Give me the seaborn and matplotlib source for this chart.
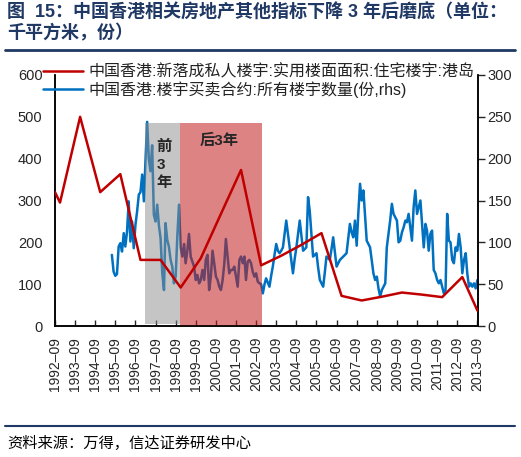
import pandas as pd
import matplotlib
matplotlib.use("Agg")
import matplotlib.pyplot as plt
import matplotlib.dates as mdates
from matplotlib.lines import Line2D
import seaborn as sns

title_text = "图  15：中国香港相关房地产其他指标下降 3 年后磨底（单位：\n千平方米，份）"
source_text = "资料来源：万得，信达证券研发中心"
red_label = "中国香港:新落成私人楼宇:实用楼面面积:住宅楼宇:港岛"
blue_label = "中国香港:楼宇买卖合约:所有楼宇数量(份,rhs)"

# annual series, left axis (千平方米)
red_dates = ["1992-09", "1992-12", "1993-12", "1994-12", "1995-12", "1996-12",
             "1997-12", "1998-12", "1999-12", "2000-12", "2001-12", "2002-12",
             "2003-12", "2004-12", "2005-12", "2006-12", "2007-12", "2008-12",
             "2009-12", "2010-12", "2011-12", "2012-12", "2013-09"]
red_values = [320, 295, 500, 320, 363, 158, 158, 92, 162, 268, 373, 145,
              168, 194, 222, 72, 61, 70, 80, 75, 69, 117, 37]

# monthly series, right axis (份), from 1995-07
blue_start = "1995-07"
blue_values = [
    85, 65, 60, 62, 95, 99, 89, 111, 95, 113, 149, 101, 125, 93, 121, 137,
    157, 160, 181, 149, 196, 244, 200, 185, 216, 133, 125, 145, 120, 105, 63,
    43, 123, 103, 95, 79, 71, 51, 59, 107, 145,
    94, 83, 98, 75, 90, 110, 83, 77, 71, 55, 61, 51, 55, 67, 55, 79, 85, 43,
    59, 90, 75, 59, 55, 47, 43, 55, 75, 104, 83, 63, 67, 67, 71, 59, 47, 79,
    83, 75, 83, 55, 77, 79, 75, 65, 59, 63, 53, 51,
    50, 39, 50, 57, 52, 47, 60, 71, 85, 98,
    90, 87, 90, 94, 110, 126, 110, 94, 78, 63,
    80, 94, 110, 126, 108, 90, 92, 94, 154, 138,
    110, 83, 85, 87, 70, 55, 51, 47, 65, 83,
    81, 79, 92, 106, 88, 71, 75, 79, 81, 83,
    85, 87, 105, 122, 112, 106, 126, 96, 135, 170,
    150, 162, 130, 102, 98, 94, 78, 63, 55, 59,
    45, 35, 43, 47, 51, 94, 110, 126, 146, 134,
    130, 126, 100, 102, 112, 118, 126, 124, 134, 118,
    102, 142, 162, 134, 142, 150, 122, 94, 122, 114,
    90, 110, 114, 67, 63, 55, 51, 55, 47, 39,
    43, 134, 102, 100, 79, 75, 94, 90, 110, 94,
    63, 79, 87, 63, 47, 51, 47, 51, 45, 55,
]

# highlighted periods
grey_span = ["1997-02-15", "1998-11-10"]
pink_span = ["1998-11-10", "2002-12-10"]
span_top = 485
grey_label = "前\n3\n年"
pink_label = "后3年"

red_color = "#C00000"
blue_color = "#0070C0"
navy = "#1F3864"

sns.set_style("ticks")
plt.rcParams["font.family"] = ["Liberation Sans", "Noto Sans CJK SC"]
plt.rcParams["axes.unicode_minus"] = False

red_df = pd.DataFrame({"date": pd.to_datetime(red_dates), "value": red_values})
blue_df = pd.DataFrame({
    "date": pd.date_range(blue_start, periods=len(blue_values), freq="MS"),
    "value": blue_values,
})

fig = plt.figure(figsize=(5.21, 4.57), dpi=100)
ax = fig.add_axes([55 / 521, 131 / 457, 423 / 521, 251 / 457])
ax2 = ax.twinx()

sns.lineplot(data=blue_df, x="date", y="value", ax=ax2, color=blue_color, lw=1.8)

# left axis on top so the shading covers the blue line
ax.set_zorder(ax2.get_zorder() + 1)
ax.patch.set_visible(False)

ax.fill_between(pd.to_datetime(grey_span), 5, span_top, color="#8C8C8C", alpha=0.5, lw=0, zorder=1)
ax.fill_between(pd.to_datetime(pink_span), 0, span_top, color="#C41E1E", alpha=0.55, lw=0, zorder=1)
sns.lineplot(data=red_df, x="date", y="value", ax=ax, color=red_color, lw=1.8, zorder=3)

ax.text(pd.Timestamp("1997-09-20"), 445, grey_label, fontsize=11, fontweight="bold",
        ha="left", va="top", linespacing=1.35, zorder=4)
ax.text(pd.Timestamp("2000-11-05"), 443, pink_label, fontsize=11, fontweight="bold",
        ha="center", va="center", zorder=4)

ax.set_ylim(0, 600)
ax2.set_ylim(0, 300)
ax.set_yticks(range(0, 601, 100))
ax2.set_yticks(range(0, 301, 50))
ax.set_xlim(pd.Timestamp("1992-09-01"), pd.Timestamp("2013-09-12"))
ax.xaxis.set_major_locator(mdates.MonthLocator(bymonth=9))
ax.xaxis.set_major_formatter(mdates.DateFormatter("%Y–%m"))
for a in (ax, ax2):
    a.set_xlabel("")
    a.set_ylabel("")

ax.tick_params(axis="x", direction="in", length=4, width=1, labelsize=10, rotation=90, pad=8)
ax.tick_params(axis="y", length=0, labelsize=10.5, pad=9)
ax2.tick_params(axis="y", direction="out", length=5, width=1, labelsize=10.5, pad=2)

ax.spines["top"].set_visible(False)
ax2.spines["top"].set_visible(False)
for a in (ax, ax2):
    for s in a.spines.values():
        s.set_color("black")
        s.set_linewidth(1.1)

handles = [Line2D([], [], color=red_color, lw=1.8), Line2D([], [], color=blue_color, lw=1.8)]
fig.legend(handles, [red_label, blue_label], loc="upper left",
           bbox_to_anchor=(43 / 521, 1 - 64 / 457), frameon=False, fontsize=11.5,
           handlelength=2.5, handletextpad=0.35, labelspacing=0.12,
           borderpad=0, borderaxespad=0, labelcolor="#222222")

fig.text(7 / 521, 1 - 4 / 457, title_text, fontsize=13, fontweight="bold", color=navy,
         ha="left", va="top", linespacing=1.15)
fig.add_artist(Line2D([5 / 521, 515 / 521], [1 - 50 / 457] * 2, color=navy, lw=2))
fig.add_artist(Line2D([5 / 521, 515 / 521], [1 - 426 / 457] * 2, color=navy, lw=1.5))
fig.text(7 / 521, 1 - 443 / 457, source_text, fontsize=11, style="italic",
         ha="left", va="center", color="black")

fig.savefig("out.png", dpi=100)
